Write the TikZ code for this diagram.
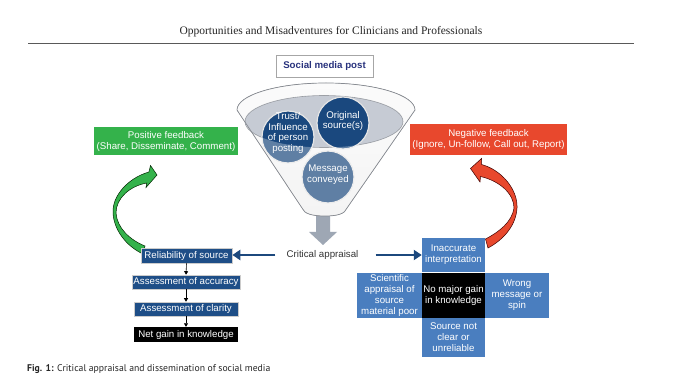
\documentclass[tikz,border=0pt]{standalone}
\usepackage{fontspec}
\setmainfont{Liberation Sans}
\newfontfamily\headfont{Liberation Serif}
\newfontfamily\capfont{PT Sans}
\usetikzlibrary{arrows.meta}
\definecolor{navy}{RGB}{30,78,135}
\definecolor{circnavy}{RGB}{26,72,126}
\definecolor{crossblue}{RGB}{74,126,191}
\definecolor{posgreen}{RGB}{52,178,75}
\definecolor{negred}{RGB}{232,72,45}
\definecolor{postnavy}{RGB}{40,50,125}
\definecolor{funnelgray}{RGB}{135,139,146}
\definecolor{ellgray}{RGB}{198,203,212}
\definecolor{arrowgray}{RGB}{158,167,180}
\definecolor{arrnavy}{RGB}{28,72,125}
\def\funnelpath{(237,110) arc[start angle=180,end angle=360,x radius=89,y radius=27] -- (347,208) .. controls (345,214) and (337,216) .. (325,216) .. controls (313,216) and (304,214) .. (302,208) -- cycle}
\begin{document}
\begin{tikzpicture}[x=1pt,y=-1pt,
  txt/.style={font=\fontsize{9.7}{11}\selectfont, text=white, align=center, inner sep=0pt},
  navybox/.style={txt, fill=navy, draw=gray!40, line width=0.6pt, minimum height=15pt},
  crossbox/.style={txt, fill=crossblue, draw=none},
  fbbox/.style={txt, draw=none},
  circ/.style={circle, fill=circnavy, draw=white!80!gray, line width=1.2pt, minimum size=52pt, inner sep=0pt},
  navyarrow/.style={draw=arrnavy, line width=2.2pt, -{Triangle[length=8pt,width=10pt]}},
  smallarr/.style={draw=black, line width=0.6pt, -{Triangle[length=3.5pt,width=4pt]}}
]
\useasboundingbox (0,0) rectangle (680,379);
\fill[white] (0,0) rectangle (680,379);

% header
\node[font=\headfont\fontsize{11.5}{13}\selectfont, inner sep=0pt, text=black!85] (head) at (331,32) {Opportunities and Misadventures for Clinicians and Professionals};
\draw[black!65, line width=0.8pt] (28,43) -- (634,43);

% social media post
\node[draw=gray!70, fill=white, line width=0.8pt, minimum width=97pt, minimum height=22pt, inner sep=0pt, font=\bfseries\fontsize{9.7}{11}\selectfont, text=postnavy] (post) at (324.5,66) {Social media post};

% gray arrow below funnel
\fill[arrowgray] (316,205) -- (330,205) -- (330,232) -- (337,232) -- (323,245) -- (309,232) -- (316,232) -- cycle;

% funnel
\fill[top color=white!96!gray, bottom color=white!88!gray] \funnelpath;
\filldraw[fill=ellgray, draw=funnelgray, line width=0.6pt] (324,121.5) ellipse [x radius=79, y radius=26];

% circles
\node[circ] (trust) at (288,137) {};
\node[circ] (orig) at (343,123) {};
\node[circ] (msg) at (328,177) {};
\fill[white, fill opacity=0.3, even odd rule] \funnelpath (324,121.5) ellipse [x radius=79, y radius=26];
\draw[funnelgray, line width=0.7pt] \funnelpath;
\node[txt, font=\fontsize{9.7}{10.8}\selectfont] (trustt) at ([yshift=4pt]trust.center) {Trust/\\Influence\\of person\\posting};
\node[txt, font=\fontsize{9.7}{10.8}\selectfont] (origt) at ([yshift=2pt]orig.center) {Original\\source(s)};
\node[txt, font=\fontsize{9.7}{10.8}\selectfont] (msgt) at ([yshift=2pt]msg.center) {Message\\conveyed};

% feedback boxes
\node[fbbox, fill=posgreen, minimum width=144pt, minimum height=28pt] (pos) at (166,141) {Positive feedback\\(Share, Disseminate, Comment)};
\node[fbbox, fill=negred, minimum width=157pt, minimum height=31pt] (neg) at (488.5,139.5) {Negative feedback\\(Ignore, Un-follow, Call out, Report)};

% curved arrows
\filldraw[fill=posgreen, draw=black!70!green!50!black, line width=0.5pt]
  (148.9,172) .. controls (128,178) and (112,196) .. (113,213)
  .. controls (114,230) and (126,246) .. (143,254)
  -- (145,246) .. controls (130,240) and (117,228) .. (116,213)
  .. controls (116,198) and (130,186) .. (146.8,183)
  -- (146,187.5) -- (157,175) -- (150.5,165.5) -- cycle;
\filldraw[fill=negred, draw=black!60!red!60!black, line width=0.5pt]
  (481.5,164.5) .. controls (502,170) and (518,190) .. (517,208)
  .. controls (516,226) and (503,240) .. (488,248)
  -- (485.5,239) .. controls (499,232) and (512,222) .. (514,208)
  .. controls (514,194) and (500,181) .. (480.5,176.5)
  -- (480,182) -- (470.5,168.5) -- (481.5,158.5) -- cycle;

% left column
\node[navybox, minimum width=91pt] (rel) at (186.5,255.5) {Reliability of source};
\node[navybox, minimum width=108pt, minimum height=14pt] (acc) at (186,282) {Assessment of accuracy};
\node[navybox, minimum width=104pt, minimum height=14pt] (clar) at (186,309) {Assessment of clarity};
\node[txt, fill=black, minimum width=104pt, minimum height=15pt] (net) at (186,334.5) {Net gain in knowledge};
\draw[smallarr] (rel.south) -- (acc.north);
\draw[smallarr] (acc.south) -- (clar.north);
\draw[smallarr] (clar.south) -- (net.north);

% cross
\node[crossbox, minimum width=63pt, minimum height=34pt] (inacc) at (453.5,255) {Inaccurate\\interpretation};
\node[crossbox, minimum width=65pt, minimum height=45pt] (sci) at (389.5,295.5) {Scientific\\appraisal of\\source\\material poor};
\node[txt, fill=black, minimum width=63pt, minimum height=45pt] (nomaj) at (453.5,295.5) {No major gain\\in knowledge};
\node[crossbox, minimum width=64pt, minimum height=45pt] (wrong) at (517,295.5) {Wrong\\message or\\spin};
\node[crossbox, minimum width=63pt, minimum height=39pt] (srcn) at (453.5,337.5) {Source not\\clear or\\unreliable};

% critical appraisal
\node[font=\fontsize{9.7}{11}\selectfont, text=black!80, inner sep=0pt] (crit) at (322.5,255) {Critical appraisal};
\draw[navyarrow, shorten <=11pt] (crit.west) -- (crit.west -| rel.east);
\draw[navyarrow, shorten <=17pt] (crit.east) -- (crit.east -| inacc.west);

% caption
\node[anchor=west, font=\capfont\fontsize{9.7}{11}\selectfont, text=black!85, inner sep=0pt] (cap) at (27,369) {\textbf{Fig. 1:} Critical appraisal and dissemination of social media};
\end{tikzpicture}
\end{document}
